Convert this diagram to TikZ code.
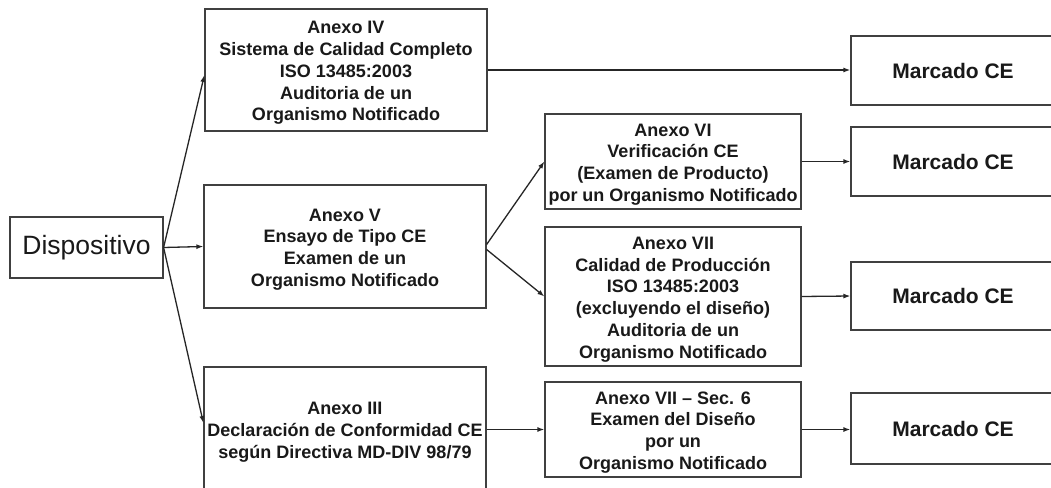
\documentclass[tikz,border=0pt]{standalone}
\usepackage{fontspec}
\setmainfont{Liberation Sans}
\usetikzlibrary{arrows.meta}
\newcommand\tstrut{\rule{0pt}{18.5pt}}
\tikzset{
  box/.style={draw=black!75, line width=1.2pt, fill=white, inner sep=0pt, align=center, text=black!90,
    font=\fontsize{18}{21.75}\selectfont\bfseries},
  ce/.style={box, font=\fontsize{21}{24}\selectfont\bfseries, minimum width=204pt},
  conn/.style={draw=black!85, line width=1.3pt, -{Latex[length=7pt,width=5pt]}}
}
\begin{document}
\begin{tikzpicture}[x=1pt,y=-1pt]
\clip (0,0) rectangle (1051,487);
\fill[white] (0,0) rectangle (1051,487);
\node[box, font=\fontsize{26.5}{30}\selectfont, minimum width=153pt, minimum height=61pt] (disp) at (86.5,247.5) {Dispositivo};
\node[box, minimum width=282pt, minimum height=122pt] (a4) at (346,70) {\tstrut Anexo IV\\Sistema de Calidad Completo\\ISO 13485:2003\\Auditoria de un\\Organismo Notificado};
\node[box, minimum width=282pt, minimum height=123pt] (a5) at (345,246.5) {\tstrut Anexo V\\Ensayo de Tipo CE\\Examen de un\\Organismo Notificado};
\node[box, minimum width=282pt, minimum height=124pt] (a3) at (345,429) {\tstrut Anexo III\\Declaración de Conformidad CE\\según Directiva MD-DIV 98/79};
\node[box, minimum width=256pt, minimum height=95pt] (a6) at (673,161.5) {\tstrut Anexo VI\\Verificación CE\\(Examen de Producto)\\por un Organismo Notificado};
\node[box, minimum width=256pt, minimum height=139pt] (a7) at (673,296.5) {\tstrut Anexo VII\\Calidad de Producción\\ISO 13485:2003\\(excluyendo el diseño)\\Auditoria de un\\Organismo Notificado};
\node[box, minimum width=256pt, minimum height=95pt] (a76) at (673,429.5) {\tstrut Anexo VII -- Sec. 6\\Examen del Diseño\\por un\\Organismo Notificado};
\node[ce, minimum height=69pt] (m1) at (953,70.5) {Marcado CE};
\node[ce, minimum height=69pt] (m2) at (953,161.5) {Marcado CE};
\node[ce, minimum height=68pt] (m3) at (953,296) {Marcado CE};
\node[ce, minimum height=71pt] (m4) at (953,428.5) {Marcado CE};
\draw[conn] (disp.east) -- ([yshift=-5pt]a4.west);
\draw[conn] (disp.east) -- (a5.west);
\draw[conn] (disp.east) -- ([yshift=6pt]a3.west);
\draw[conn] (a4.east) -- (m1.west |- a4.east);
\draw[conn] ([yshift=2pt]a5.east) -- (a6.west);
\draw[conn] ([yshift=-3pt]a5.east) -- (a7.west);
\draw[conn] (a6.east) -- (m2.west);
\draw[conn] (a7.east) -- (m3.west);
\draw[conn] (a3.east |- a76.west) -- (a76.west);
\draw[conn] (a76.east) -- (m4.west |- a76.east);
\end{tikzpicture}
\end{document}
